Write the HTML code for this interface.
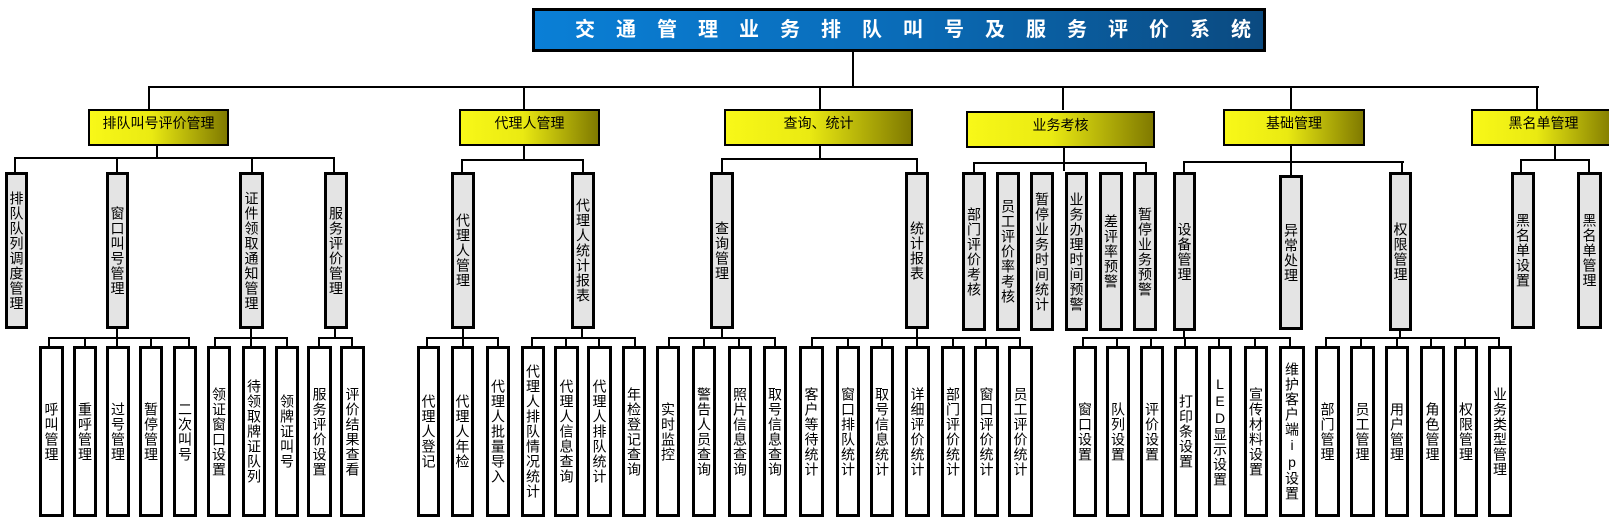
<!DOCTYPE html>
<html><head><meta charset="utf-8"><style>
*{margin:0;padding:0;box-sizing:border-box}
body{width:1609px;height:526px;background:#fff;position:relative;overflow:hidden;font-family:"Liberation Sans","Noto Sans CJK SC","WenQuanYi Zen Hei",sans-serif}
.t{position:absolute;left:532px;top:8px;width:734px;height:44px;border:3px solid #000;background:linear-gradient(to right,#0a7fd6,#0a6cb8 50%,#0b4a80);color:#fff;font-weight:bold;font-size:20px;letter-spacing:21px;line-height:38px;padding-left:40px;white-space:nowrap}
.l1{position:absolute;top:109px;height:37px;border:2px solid #000;background:linear-gradient(to right,#f8f818 0%,#eaea12 45%,#807a00 100%);font-size:14px;text-align:center;line-height:24px}
.b{position:absolute;border:3px solid #000;display:flex;align-items:center;justify-content:center;writing-mode:vertical-rl;text-orientation:upright;font-size:14px;letter-spacing:1px;line-height:16px}
.g{top:172px;height:157px;background:#e4e4e4}
.w{top:346px;height:171px;background:#fff}
.h{position:absolute;height:2px;background:#000}
.v{position:absolute;width:2px;background:#000}
</style></head><body>
<div class="t">交通管理业务排队叫号及服务评价系统</div>
<!-- main connectors -->
<div class="v" style="left:852px;top:52px;height:36px"></div>
<div class="h" style="left:149px;top:86px;width:1390px"></div>
<div class="v" style="left:148px;top:86px;height:24px"></div>
<div class="v" style="left:523px;top:86px;height:24px"></div>
<div class="v" style="left:819px;top:86px;height:24px"></div>
<div class="v" style="left:1062px;top:86px;height:24px"></div>
<div class="v" style="left:1290px;top:86px;height:24px"></div>
<div class="v" style="left:1536px;top:86px;height:24px"></div>

<div class="l1" style="left:88px;width:141px">排队叫号评价管理</div>
<div class="l1" style="left:459px;width:141px">代理人管理</div>
<div class="l1" style="left:724px;width:189px">查询、统计</div>
<div class="l1" style="left:966px;width:189px;top:111px">业务考核</div>
<div class="l1" style="left:1223px;width:142px">基础管理</div>
<div class="l1" style="left:1471px;width:145px">黑名单管理</div>

<!-- A -->
<div class="v" style="left:156px;top:146px;height:13px"></div>
<div class="h" style="left:14px;top:157px;width:321px"></div>
<div class="v" style="left:14px;top:157px;height:16px"></div>
<div class="v" style="left:116px;top:157px;height:16px"></div>
<div class="v" style="left:251px;top:157px;height:16px"></div>
<div class="v" style="left:333px;top:157px;height:16px"></div>
<div class="b g" style="left:5px;width:23px">排队队列调度管理</div>
<div class="b g" style="left:106px;width:23px">窗口叫号管理</div>
<div class="b g" style="left:239px;width:25px">证件领取通知管理</div>
<div class="b g" style="left:324px;width:24px">服务评价管理</div>
<div class="v" style="left:116px;top:328px;height:10px"></div>
<div class="h" style="left:48px;top:337px;width:142px"></div>
<div class="v" style="left:48px;top:337px;height:10px"></div><div class="v" style="left:84px;top:337px;height:10px"></div><div class="v" style="left:116px;top:337px;height:10px"></div><div class="v" style="left:150px;top:337px;height:10px"></div><div class="v" style="left:188px;top:337px;height:10px"></div>
<div class="b w" style="left:39px;width:25px">呼叫管理</div>
<div class="b w" style="left:73px;width:24px">重呼管理</div>
<div class="b w" style="left:106px;width:24px">过号管理</div>
<div class="b w" style="left:139px;width:24px">暂停管理</div>
<div class="b w" style="left:173px;width:24px">二次叫号</div>
<div class="v" style="left:250px;top:328px;height:10px"></div>
<div class="h" style="left:214px;top:337px;width:74px"></div>
<div class="v" style="left:214px;top:337px;height:10px"></div><div class="v" style="left:250px;top:337px;height:10px"></div><div class="v" style="left:286px;top:337px;height:10px"></div>
<div class="b w" style="left:207px;width:24px">领证窗口设置</div>
<div class="b w" style="left:242px;width:24px">待领取牌证队列</div>
<div class="b w" style="left:275px;width:24px">领牌证叫号</div>
<div class="v" style="left:334px;top:328px;height:10px"></div>
<div class="h" style="left:318px;top:337px;width:35px"></div>
<div class="v" style="left:318px;top:337px;height:10px"></div><div class="v" style="left:351px;top:337px;height:10px"></div>
<div class="b w" style="left:307px;width:25px">服务评价设置</div>
<div class="b w" style="left:340px;width:25px">评价结果查看</div>

<!-- B -->
<div class="v" style="left:523px;top:146px;height:14px"></div>
<div class="h" style="left:461px;top:159px;width:123px"></div>
<div class="v" style="left:461px;top:159px;height:14px"></div><div class="v" style="left:582px;top:159px;height:14px"></div>
<div class="b g" style="left:451px;width:24px">代理人管理</div>
<div class="b g" style="left:571px;width:24px">代理人统计报表</div>
<div class="v" style="left:462px;top:328px;height:10px"></div>
<div class="h" style="left:426px;top:337px;width:73px"></div>
<div class="v" style="left:426px;top:337px;height:10px"></div><div class="v" style="left:462px;top:337px;height:10px"></div><div class="v" style="left:497px;top:337px;height:10px"></div>
<div class="b w" style="left:417px;width:23px">代理人登记</div>
<div class="b w" style="left:451px;width:23px">代理人年检</div>
<div class="b w" style="left:486px;width:24px">代理人批量导入</div>
<div class="v" style="left:581px;top:328px;height:10px"></div>
<div class="h" style="left:531px;top:337px;width:105px"></div>
<div class="v" style="left:531px;top:337px;height:10px"></div><div class="v" style="left:565px;top:337px;height:10px"></div><div class="v" style="left:598px;top:337px;height:10px"></div><div class="v" style="left:634px;top:337px;height:10px"></div>
<div class="b w" style="left:521px;width:24px">代理人排队情况统计</div>
<div class="b w" style="left:554px;width:25px">代理人信息查询</div>
<div class="b w" style="left:587px;width:25px">代理人排队统计</div>
<div class="b w" style="left:622px;width:24px">年检登记查询</div>

<!-- C -->
<div class="v" style="left:819px;top:146px;height:13px"></div>
<div class="h" style="left:721px;top:158px;width:197px"></div>
<div class="v" style="left:721px;top:158px;height:15px"></div><div class="v" style="left:916px;top:158px;height:15px"></div>
<div class="b g" style="left:710px;width:24px">查询管理</div>
<div class="b g" style="left:905px;width:24px">统计报表</div>
<div class="v" style="left:721px;top:328px;height:10px"></div>
<div class="h" style="left:668px;top:337px;width:108px"></div>
<div class="v" style="left:668px;top:337px;height:10px"></div><div class="v" style="left:703px;top:337px;height:10px"></div><div class="v" style="left:738px;top:337px;height:10px"></div><div class="v" style="left:774px;top:337px;height:10px"></div>
<div class="b w" style="left:656px;width:24px">实时监控</div>
<div class="b w" style="left:692px;width:24px">警告人员查询</div>
<div class="b w" style="left:728px;width:24px">照片信息查询</div>
<div class="b w" style="left:763px;width:24px">取号信息查询</div>
<div class="v" style="left:916px;top:328px;height:10px"></div>
<div class="h" style="left:811px;top:337px;width:210px"></div>
<div class="v" style="left:811px;top:337px;height:10px"></div><div class="v" style="left:847px;top:337px;height:10px"></div><div class="v" style="left:881px;top:337px;height:10px"></div><div class="v" style="left:916px;top:337px;height:10px"></div><div class="v" style="left:952px;top:337px;height:10px"></div><div class="v" style="left:985px;top:337px;height:10px"></div><div class="v" style="left:1019px;top:337px;height:10px"></div>
<div class="b w" style="left:799px;width:25px">客户等待统计</div>
<div class="b w" style="left:836px;width:24px">窗口排队统计</div>
<div class="b w" style="left:870px;width:24px">取号信息统计</div>
<div class="b w" style="left:905px;width:25px">详细评价统计</div>
<div class="b w" style="left:941px;width:24px">部门评价统计</div>
<div class="b w" style="left:974px;width:25px">窗口评价统计</div>
<div class="b w" style="left:1008px;width:25px">员工评价统计</div>

<!-- D -->
<div class="v" style="left:1063px;top:148px;height:23px"></div>
<div class="h" style="left:973px;top:162px;width:174px"></div>
<div class="v" style="left:973px;top:162px;height:11px"></div><div class="v" style="left:1145px;top:162px;height:11px"></div>
<div class="b g" style="left:962px;width:24px;height:159px">部门评价考核</div>
<div class="b g" style="left:996px;width:24px;height:159px">员工评价率考核</div>
<div class="b g" style="left:1030px;width:24px;height:159px">暂停业务时间统计</div>
<div class="b g" style="left:1065px;width:23px;height:159px">业务办理时间预警</div>
<div class="b g" style="left:1099px;width:24px;height:159px">差评率预警</div>
<div class="b g" style="left:1133px;width:24px;height:159px">暂停业务预警</div>

<!-- E -->
<div class="v" style="left:1290px;top:146px;height:29px"></div>
<div class="h" style="left:1183px;top:161px;width:221px"></div>
<div class="v" style="left:1183px;top:161px;height:12px"></div><div class="v" style="left:1401px;top:161px;height:12px"></div>
<div class="b g" style="left:1173px;width:23px;height:159px">设备管理</div>
<div class="b g" style="left:1279px;width:24px;top:175px;height:155px">异常处理</div>
<div class="b g" style="left:1389px;width:23px;height:159px">权限管理</div>
<div class="v" style="left:1183px;top:330px;height:8px"></div>
<div class="h" style="left:1082px;top:337px;width:209px"></div>
<div class="v" style="left:1082px;top:337px;height:10px"></div><div class="v" style="left:1116px;top:337px;height:10px"></div><div class="v" style="left:1150px;top:337px;height:10px"></div><div class="v" style="left:1184px;top:337px;height:10px"></div><div class="v" style="left:1218px;top:337px;height:10px"></div><div class="v" style="left:1254px;top:337px;height:10px"></div><div class="v" style="left:1289px;top:337px;height:10px"></div>
<div class="b w" style="left:1073px;width:24px">窗口设置</div>
<div class="b w" style="left:1106px;width:24px">队列设置</div>
<div class="b w" style="left:1140px;width:24px">评价设置</div>
<div class="b w" style="left:1174px;width:24px">打印条设置</div>
<div class="b w" style="left:1208px;width:24px">LED显示设置</div>
<div class="b w" style="left:1244px;width:24px">宣传材料设置</div>
<div class="b w" style="left:1279px;width:26px">维护客户端ip设置</div>
<div class="v" style="left:1399px;top:330px;height:8px"></div>
<div class="h" style="left:1325px;top:337px;width:175px"></div>
<div class="v" style="left:1325px;top:337px;height:10px"></div><div class="v" style="left:1360px;top:337px;height:10px"></div><div class="v" style="left:1396px;top:337px;height:10px"></div><div class="v" style="left:1430px;top:337px;height:10px"></div><div class="v" style="left:1464px;top:337px;height:10px"></div><div class="v" style="left:1498px;top:337px;height:10px"></div>
<div class="b w" style="left:1315px;width:25px">部门管理</div>
<div class="b w" style="left:1350px;width:25px">员工管理</div>
<div class="b w" style="left:1385px;width:24px">用户管理</div>
<div class="b w" style="left:1420px;width:25px">角色管理</div>
<div class="b w" style="left:1454px;width:24px">权限管理</div>
<div class="b w" style="left:1488px;width:24px">业务类型管理</div>

<!-- F -->
<div class="v" style="left:1554px;top:146px;height:14px"></div>
<div class="h" style="left:1520px;top:159px;width:70px"></div>
<div class="v" style="left:1520px;top:159px;height:14px"></div><div class="v" style="left:1588px;top:159px;height:14px"></div>
<div class="b g" style="left:1511px;width:24px">黑名单设置</div>
<div class="b g" style="left:1577px;width:25px">黑名单管理</div>
</body></html>
